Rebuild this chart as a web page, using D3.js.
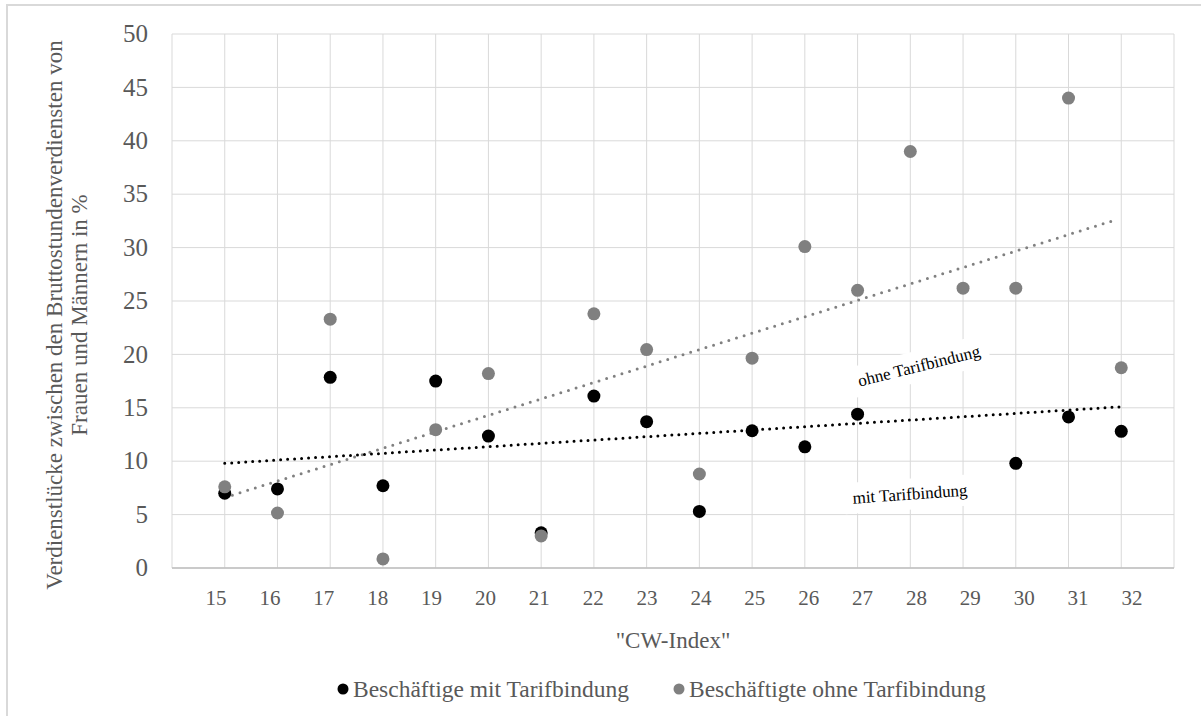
<!DOCTYPE html>
<html>
<head>
<meta charset="utf-8">
<script src="https://cdn.jsdelivr.net/npm/d3@7"></script>
<style>
  html, body { margin: 0; padding: 0; background: #fff; }
  svg text { font-family: "Liberation Serif", "DejaVu Serif", "Times New Roman", serif; }
</style>
</head>
<body>
<svg id="chart" width="1201" height="716"></svg>
<script>
// ---- data ----
const categories = [15,16,17,18,19,20,21,22,23,24,25,26,27,28,29,30,31,32];
const mitTarif  = [7.0, 7.4, 17.85, 7.7, 17.5, 12.35, 3.3, 16.1, 13.7, 5.3, 12.85, 11.35, 14.4, null, null, 9.8, 14.15, 12.8];
const ohneTarif = [7.6, 5.15, 23.3, 0.85, 12.95, 18.2, 3.0, 23.8, 20.45, 8.8, 19.65, 30.1, 26.0, 39.0, 26.2, 26.2, 44.0, 18.75];
const trendMitX  = [15, 32];
const trendMitY  = [9.8, 15.1];
const trendOhneX = [15, 31.9];
const trendOhneY = [6.6, 32.6];
const yTicks = [0,5,10,15,20,25,30,35,40,45,50];
const seriesNames = ["Beschäftige mit Tarifbindung", "Beschäftigte ohne Tarfibindung"];
const yTitle = ["Verdienstlücke  zwischen den Bruttostundenverdiensten  von", "Frauen und Männern in %"];
const xTitle = "\"CW-Index\"";
const annotations = ["ohne  Tarifbindung", "mit Tarifbindung"];

// ---- layout ----
const FONT = "'Liberation Serif', 'DejaVu Serif', 'Times New Roman', serif";
const svg = d3.select("#chart").attr("font-family", FONT);
const x = d3.scaleLinear().domain([14, 33]).range([172, 1174]);
const xLabel = d3.scaleLinear().domain([15, 32]).range([216, 1132]);
const y = d3.scaleLinear().domain([0, 50]).range([568, 34]);
const gridColor = "#d9d9d9";
const textGrey = "#595959";
const black = "#000000";
const grey = "#808080";

// outer border (chart area frame, only top/left visible)
svg.append("rect").attr("x", 7).attr("y", 5).attr("width", 1220).attr("height", 730)
  .attr("fill", "none").attr("stroke", "#d9d9d9").attr("stroke-width", 2);

// horizontal gridlines
svg.append("g").selectAll("line").data(yTicks).join("line")
  .attr("x1", x(14)).attr("x2", x(33))
  .attr("y1", d => y(d)).attr("y2", d => y(d))
  .attr("stroke", gridColor).attr("stroke-width", 1);

// vertical gridlines
const vTicks = d3.range(14, 34);
svg.append("g").selectAll("line").data(vTicks).join("line")
  .attr("x1", d => x(d)).attr("x2", d => x(d))
  .attr("y1", y(0)).attr("y2", y(50))
  .attr("stroke", gridColor).attr("stroke-width", 1);

// x axis line
svg.append("line").attr("x1", x(14)).attr("x2", x(33)).attr("y1", y(0)).attr("y2", y(0))
  .attr("stroke", "#bfbfbf").attr("stroke-width", 1.5);

// y tick labels
svg.append("g").selectAll("text").data(yTicks).join("text")
  .attr("font-family", FONT)
  .attr("x", 148).attr("y", d => y(d)).attr("dy", "0.33em")
  .attr("text-anchor", "end").attr("font-size", 25).attr("fill", textGrey)
  .text(d => d);

// x tick labels
svg.append("g").selectAll("text").data(categories).join("text")
  .attr("font-family", FONT)
  .attr("x", d => xLabel(d)).attr("y", 605)
  .attr("text-anchor", "middle").attr("font-size", 21).attr("fill", textGrey)
  .text(d => d);

// x title
svg.append("text").attr("font-family", FONT).attr("x", 673).attr("y", 648).attr("text-anchor", "middle")
  .attr("font-size", 23).attr("fill", textGrey).text(xTitle);

// y title
const yt = svg.append("text").attr("font-family", FONT).attr("transform", "translate(0,315) rotate(-90)")
  .attr("text-anchor", "middle").attr("font-size", 23).attr("fill", textGrey);
yTitle.forEach((t, i) => {
  yt.append("tspan").attr("x", 0).attr("y", 62 + i * 25).text(t);
});

// trendlines
const line = d3.line().x(d => x(d[0])).y(d => y(d[1]));
svg.append("path").datum(trendOhneX.map((v, i) => [v, trendOhneY[i]]))
  .attr("d", line).attr("fill", "none").attr("stroke", grey)
  .attr("stroke-width", 3).attr("stroke-linecap", "round").attr("stroke-dasharray", "0,8");
svg.append("path").datum(trendMitX.map((v, i) => [v, trendMitY[i]]))
  .attr("d", line).attr("fill", "none").attr("stroke", black)
  .attr("stroke-width", 3).attr("stroke-linecap", "round").attr("stroke-dasharray", "0,7");

// annotations with white background
function annot(text, cx, cy, angle) {
  const g = svg.append("g").attr("transform", `translate(${cx},${cy}) rotate(${angle})`);
  const t = g.append("text").attr("font-family", FONT).attr("text-anchor", "middle").attr("dy", "0.33em")
    .attr("font-size", 17).attr("fill", "#000").text(text);
  const bb = t.node().getBBox();
  g.insert("rect", "text").attr("x", bb.x - 8).attr("y", bb.y - 6)
    .attr("width", bb.width + 16).attr("height", bb.height + 12).attr("fill", "#fff");
}
annot(annotations[0], 919, 366, -14);
annot(annotations[1], 910, 494, -4);

// points
const ohnePts = categories.map((c, i) => ({c, v: ohneTarif[i]})).filter(d => d.v != null);
const mitPts = categories.map((c, i) => ({c, v: mitTarif[i]})).filter(d => d.v != null);
svg.append("g").selectAll("circle").data(mitPts).join("circle")
  .attr("cx", d => x(d.c)).attr("cy", d => y(d.v)).attr("r", 6.5).attr("fill", black);
svg.append("g").selectAll("circle").data(ohnePts).join("circle")
  .attr("cx", d => x(d.c)).attr("cy", d => y(d.v)).attr("r", 6.5).attr("fill", grey);

// legend
const leg = [{name: seriesNames[0], color: black, x: 343}, {name: seriesNames[1], color: grey, x: 679}];
const lg = svg.append("g").selectAll("g").data(leg).join("g");
lg.append("circle").attr("cx", d => d.x).attr("cy", 689).attr("r", 5.5).attr("fill", d => d.color);
lg.append("text").attr("font-family", FONT).attr("x", d => d.x + 10).attr("y", 697).attr("font-size", 23.5)
  .attr("fill", textGrey).text(d => d.name);
</script>
</body>
</html>
